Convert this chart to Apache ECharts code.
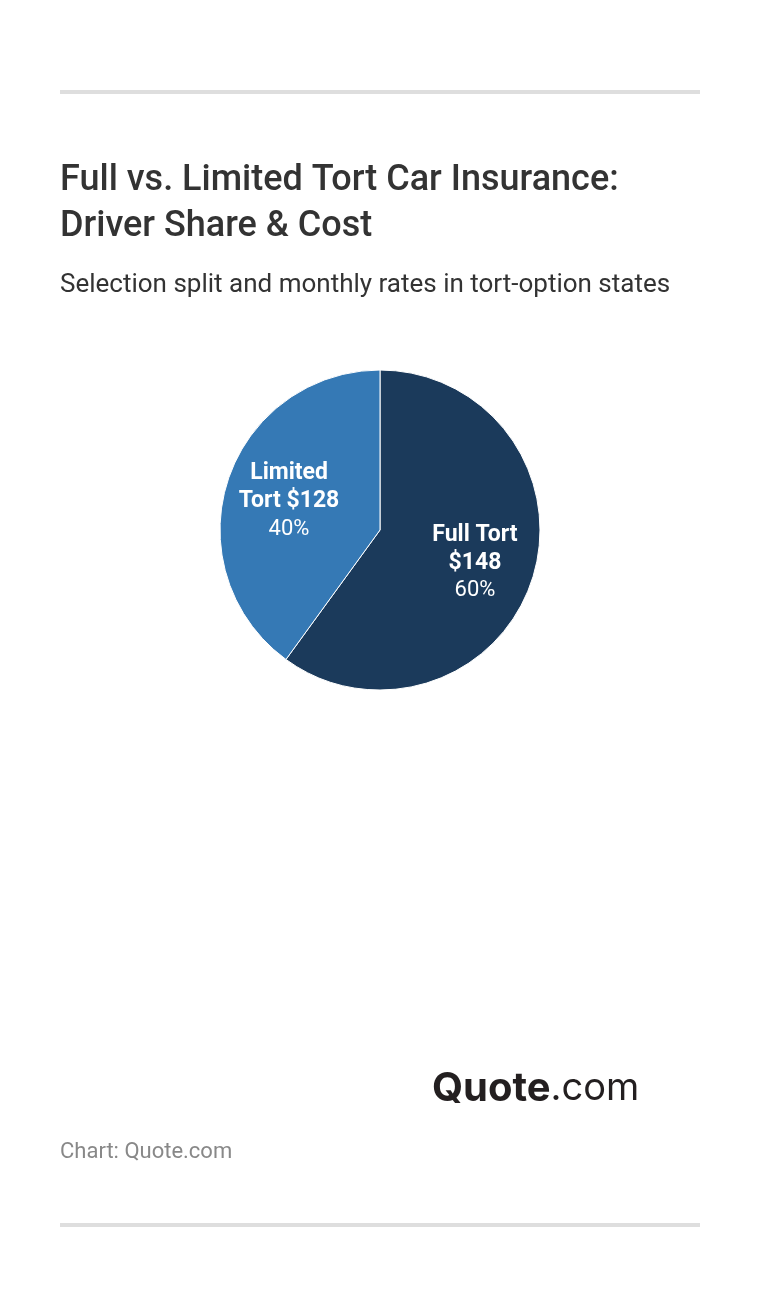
<!DOCTYPE html>
<html>
<head>
<meta charset="utf-8">
<script src="https://cdn.jsdelivr.net/npm/echarts@6/dist/echarts.min.js"></script>
<style>
  html, body { margin: 0; padding: 0; background: #fff; }
  #chart { width: 760px; height: 1308px; }
</style>
</head>
<body>
<div id="chart"></div>
<script>
const categories = ['Full Tort', 'Limited Tort']
const shares = [60, 40]
const monthlyRates = [148, 128]
const labelLines = ['Full Tort\n$148', 'Limited\nTort $128']
const colors = ['#1b3a5b', '#3579b5']
const labelOffsets = [[-3, 1], [7, 3]]

const pieData = categories.map((name, i) => ({
  name,
  value: shares[i],
  rate: monthlyRates[i],
  labelText: labelLines[i],
  itemStyle: { color: colors[i] },
}))

const myChart = echarts.init(document.getElementById('chart'))
const font = 'Roboto, "Noto Sans", sans-serif'
myChart.setOption({
  backgroundColor: '#fff',
  animation: false,
  graphic: [
    { type: 'rect', shape: { x: 60, y: 90, width: 640, height: 4 }, style: { fill: '#dedede' } },
    { type: 'text', left: 60, top: 158, style: { text: 'Full vs. Limited Tort Car Insurance:\nDriver Share & Cost', font: '500 36px ' + font, fill: '#333', lineHeight: 46 } },
    { type: 'text', left: 60, top: 272, style: { text: 'Selection split and monthly rates in tort-option states', font: '400 26px ' + font, fill: '#333' } },
    { type: 'text', left: 432, top: 1069, style: { text: '{b|Quote}{r|.com}', rich: { b: { fontFamily: 'Inter, sans-serif', fontWeight: 700, fontSize: 40, fill: '#231f20' }, r: { fontFamily: 'Inter, sans-serif', fontWeight: 400, fontSize: 38, fill: '#231f20' } } } },
    { type: 'text', left: 60, top: 1141, style: { text: 'Chart: Quote.com', font: '400 22px ' + font, fill: '#888' } },
    { type: 'rect', shape: { x: 60, y: 1223, width: 640, height: 4 }, style: { fill: '#dedede' } },
  ],
  series: [
    {
      type: 'pie',
      center: [380, 530],
      radius: [0, 160],
      startAngle: 90,
      clockwise: true,
      silent: true,
      itemStyle: { borderColor: '#fff', borderWidth: 1 },
      label: { show: false },
      labelLine: { show: false },
      data: pieData,
    },
    {
      type: 'pie',
      center: [380, 530],
      radius: [40, 160],
      startAngle: 90,
      clockwise: true,
      silent: true,
      itemStyle: { color: 'transparent', borderWidth: 0 },
      label: {
        show: true,
        position: 'inside',
        formatter: p => '{b|' + p.data.labelText.split('\n').join('}\n{b|') + '}\n{p|' + p.value + '%}',
        rich: {
          b: { fontFamily: 'Roboto, sans-serif', fontWeight: 700, fontSize: 23, color: '#fff', lineHeight: 28, align: 'center' },
          p: { fontFamily: 'Roboto, sans-serif', fontWeight: 400, fontSize: 22, color: '#fff', lineHeight: 28, align: 'center' },
        },
      },
      labelLine: { show: false },
      data: pieData.map((d, i) => ({ name: d.name, value: d.value, labelText: d.labelText, label: { offset: labelOffsets[i] } })),
    },
  ],
})
</script>
</body>
</html>
